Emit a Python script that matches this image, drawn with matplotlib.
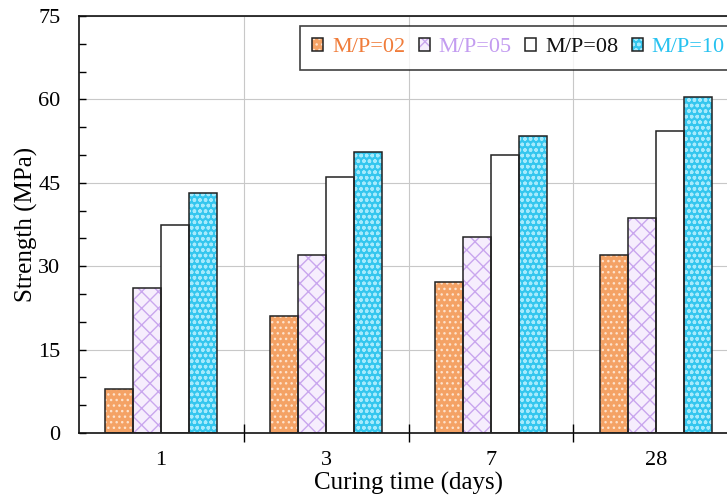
import numpy as np
import matplotlib.pyplot as plt
from matplotlib.legend_handler import HandlerTuple
from matplotlib.ticker import MultipleLocator

plt.rcParams['font.family'] = ['Liberation Serif', 'DejaVu Serif']

#################################data############################################
curing_days = ["1", "3", "7", "28"]
series_labels = ["M/P=02", "M/P=05", "M/P=08", "M/P=10"]
mp02 = [8.0, 21.0, 27.2, 32.1]
mp05 = [26.1, 32.0, 35.3, 38.6]
mp08 = [37.4, 46.0, 50.0, 54.4]
mp10 = [43.2, 50.5, 53.5, 60.4]

#################################style############################################
face_colors = ["#f4a265", "#f6eefd", "#ffffff", "#34c6ee"]
hatch_colors = ["#fde2cc", "#c9a6ee", "#ffffff", "#a6eafc"]
hatches = ["...", "xx", "", "ooo"]
label_colors = ["#f07c3a", "#c39cf0", "#111111", "#27c2f0"]

#################################plot############################################
fig = plt.figure(figsize=(7.27, 5.01), dpi=100)
ax = fig.add_axes([0.108, 0.1357, 0.9078, 0.8323])

x = np.arange(len(curing_days))
width = 0.17
handles = []
for i, vals in enumerate([mp02, mp05, mp08, mp10]):
    pos = x + (i - 1.5) * width
    h1 = ax.bar(pos, vals, width, color=face_colors[i], edgecolor=hatch_colors[i],
                hatch=hatches[i], linewidth=0, zorder=2)
    h2 = ax.bar(pos, vals, width, fill=False, edgecolor="#222222", linewidth=1.1, zorder=3)
    handles.append((h1[0], h2[0]))

ax.set_xlim(-0.5, 3.5)
ax.set_ylim(0, 75)
ax.yaxis.set_major_locator(MultipleLocator(15))
ax.yaxis.set_minor_locator(MultipleLocator(5))
ax.tick_params(axis='y', which='both', direction='in', labelsize=16, length=5, width=1, pad=13)
ax.set_xticks(x)
ax.set_xticklabels(curing_days)
ax.set_xticks([0.5, 1.5, 2.5], minor=True)
ax.tick_params(axis='x', which='major', length=0, labelsize=16, pad=13)
ax.tick_params(axis='x', which='minor', direction='inout', length=13, width=1)

ax.grid(True, axis='y', which='major', color="#c8c8c8", linewidth=0.8, zorder=0)
ax.grid(True, axis='x', which='minor', color="#c8c8c8", linewidth=0.8, zorder=0)
ax.set_axisbelow(True)
for s in ax.spines.values():
    s.set_linewidth(1.2)
    s.set_color("#111111")

ax.set_xlabel("Curing time (days)", fontsize=18, labelpad=1)
ax.set_ylabel("Strength (MPa)", fontsize=18, labelpad=0)

leg = ax.legend(handles, series_labels, handler_map={tuple: HandlerTuple(ndivide=1)},
                loc="upper left", bbox_to_anchor=(300 / 727, 1 - 26 / 501),
                bbox_transform=fig.transFigure, borderaxespad=0,
                ncol=4, fontsize=16, frameon=True, fancybox=False,
                handlelength=0.5, handleheight=0.5, handletextpad=0.4, columnspacing=0.6,
                borderpad=0.55, labelcolor=label_colors)
leg.get_frame().set_edgecolor("#111111")
leg.get_frame().set_linewidth(1.2)

fig.savefig("out.png", dpi=100)
